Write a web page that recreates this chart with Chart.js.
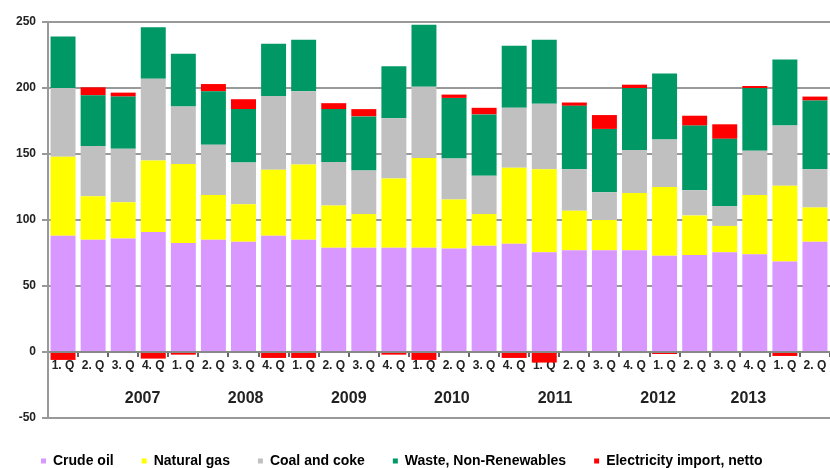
<!DOCTYPE html>
<html>
<head>
<meta charset="utf-8">
<script src="https://cdn.jsdelivr.net/npm/chart.js@4.4.1/dist/chart.umd.min.js"></script>
<style>
  html, body { margin: 0; padding: 0; background: #fff; overflow: hidden; }
  #wrap { width: 830px; height: 478px; }
</style>
</head>
<body>
<div id="wrap"><canvas id="energyChart"></canvas></div>
<script>
// quarters 2007 Q1 .. 2013 Q2
const quarterLabels = [
    '1. Q', '2. Q', '3. Q', '4. Q', '1. Q', '2. Q', '3. Q', '4. Q',
    '1. Q', '2. Q', '3. Q', '4. Q', '1. Q', '2. Q', '3. Q', '4. Q',
    '1. Q', '2. Q', '3. Q', '4. Q', '1. Q', '2. Q', '3. Q', '4. Q',
    '1. Q', '2. Q'
];
const yearLabels = ['2007', '2008', '2009', '2010', '2011', '2012', '2013'];
const yearPositions = [1, 5, 9, 13, 17, 21, 24.5];

const crudeOil = [88, 85, 86, 91, 82.5, 85, 83.5, 88, 85, 79, 79, 79, 79, 78.5, 80.5, 82, 75.5, 77, 77, 77, 73, 73.5, 75.5, 74, 68.5, 83.5];
const naturalGas = [60, 33, 27.5, 54, 60, 34, 28.5, 50, 57, 32, 25.5, 52.5, 68, 37, 24, 57.5, 63, 30, 23, 43.5, 52, 30, 20, 45, 57.5, 26];
const coalCoke = [52, 38, 40.5, 62, 43.5, 38, 31.5, 56, 55.5, 33, 33, 45.5, 54, 31, 29, 45.5, 49.5, 31.5, 21, 32.5, 36, 19, 15, 33.5, 45.5, 29];
const wasteNonRen = [39, 38.5, 39.5, 39, 40, 40.5, 40.5, 39.5, 39, 40, 41, 39.5, 47, 46, 46.5, 47, 48.5, 48, 48, 47, 50, 49, 51, 47.5, 50, 52];
const electricity = [-6, 6, 3, -5, -2, 5.5, 7.5, -4.5, -4.5, 4.5, 5.5, -2, -6, 2.5, 5, -4.5, -8, 2.5, 10.5, 2.5, -1.5, 7.5, 11, 1.5, -3, 3];

const fontFamily = '"Liberation Sans", Arial, sans-serif';

function createEnergyChart() {
    const ctx = document.getElementById('energyChart').getContext('2d');

    const data = {
        labels: quarterLabels,
        datasets: [
            { label: 'Crude oil', data: crudeOil, backgroundColor: '#d898ff' },
            { label: 'Natural gas', data: naturalGas, backgroundColor: '#ffff00' },
            { label: 'Coal and coke', data: coalCoke, backgroundColor: '#c0c0c0' },
            { label: 'Waste, Non-Renewables', data: wasteNonRen, backgroundColor: '#009966' },
            { label: 'Electricity import, netto', data: electricity, backgroundColor: '#ff0000' },
        ],
    };

    const options = {
        responsive: true,
        maintainAspectRatio: false,
        animation: false,
        layout: { padding: { left: 13, top: 22, right: 0, bottom: 0 } },
        datasets: {
            bar: { categoryPercentage: 1, barPercentage: 0.83, borderWidth: 0 },
        },
        scales: {
            x: {
                stacked: true,
                position: { y: 0 },
                grid: { drawOnChartArea: false, drawTicks: true, tickLength: 4, color: '#666', lineWidth: 2, offset: true },
                border: { display: true, color: '#888', width: 2 },
                ticks: {
                    autoSkip: false, maxRotation: 0, padding: 2, color: '#222',
                    font: { family: fontFamily, size: 12, weight: 'bold' },
                },
            },
            years: {
                axis: 'x',
                type: 'linear',
                position: { y: -28 },
                min: -0.5,
                max: 25.5,
                afterBuildTicks: scale => {
                    scale.ticks = yearPositions.map(v => ({ value: v }));
                },
                grid: { display: false, drawTicks: false },
                border: { display: false },
                ticks: {
                    autoSkip: false, maxRotation: 0, padding: 0, color: '#222',
                    font: { family: fontFamily, size: 16, weight: 'bold' },
                    callback: value => yearLabels[yearPositions.indexOf(value)],
                },
            },
            y: {
                stacked: true,
                min: -50,
                max: 250,
                afterFit: scale => { scale.width = 35; },
                grid: { color: '#999', lineWidth: 2, tickLength: 6 },
                border: { color: '#999', width: 2 },
                ticks: {
                    stepSize: 50, padding: 6, color: '#222',
                    font: { family: fontFamily, size: 12, weight: 'bold' },
                },
            },
        },
        plugins: {
            tooltip: { enabled: false },
            legend: {
                position: 'bottom',
                align: 'start',
                title: { display: true, text: '', padding: { top: 7, bottom: 0 }, font: { size: 1, lineHeight: 1 } },
                labels: {
                    boxWidth: 5,
                    boxHeight: 5,
                    padding: 28,
                    color: '#000',
                    font: { family: fontFamily, size: 14, weight: 'bold' },
                },
            },
        },
    };

    new Chart(ctx, {
        type: 'bar',
        data: data,
        options: options,
    });
}

createEnergyChart();
</script>
</body>
</html>
